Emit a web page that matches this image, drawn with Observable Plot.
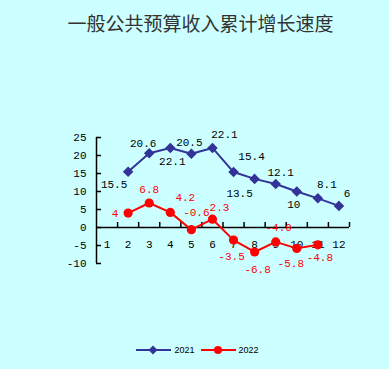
<!DOCTYPE html>
<html><head><meta charset="utf-8">
<script src="https://cdn.jsdelivr.net/npm/d3@7"></script>
<script src="https://cdn.jsdelivr.net/npm/@observablehq/plot@0.6"></script>
<style>
html,body{margin:0;padding:0;background:#ccffff;width:389px;height:369px;overflow:hidden}
#title{height:40px;line-height:46px;text-align:center;font-family:"Noto Sans CJK SC";font-size:19px;color:#333;padding-left:12px;box-sizing:border-box;white-space:nowrap}
#chart svg{display:block}
#legend{height:39px;display:flex;justify-content:center;align-items:center;padding-left:6px;font-family:"Liberation Sans";font-size:9px;color:#000}
#legend span.item{display:flex;align-items:center;margin:0 3px}
#legend svg{display:block;margin-right:3px}
</style></head>
<body>
<div id="title">一般公共预算收入累计增长速度</div>
<div id="chart"></div>
<div id="legend"></div>
<script>
// ---- data ----
const monthTicks = [1,2,3,4,5,6,7,8,9,10,11,12];
const yTicks = [-10,-5,0,5,10,15,20,25];
const months2021 = [2,3,4,5,6,7,8,9,10,11,12];
const values2021 = [15.5,20.6,22.1,20.5,22.1,15.4,13.5,12.1,10,8.1,6];
const labels2021 = ["15.5","20.6","22.1","20.5","22.1","15.4","13.5","12.1","10","8.1","6"];
const months2022 = [2,3,4,5,6,7,8,9,10,11];
const values2022 = [4,6.8,4.2,-0.6,2.3,-3.5,-6.8,-4.0,-5.8,-4.8];
const labels2022 = ["4","6.8","4.2","-0.6","2.3","-3.5","-6.8","-4.0","-5.8","-4.8"];
const seriesNames = ["2021","2022"];

// ---- label placement (layout only) ----
const off2021 = [[-14,13],[-6,-10],[2,14],[-2,-11],[12,-13],[18,-16],[-15,15],[5,-11],[-3,13],[9,-14],[8,-12]];
const off2022 = [[-13,0],[0,-14],[15,-15],[5,-17],[7,-12],[-2,16],[3,17],[3,-14],[-6,15],[2,13]];

const blue = "#333399", red = "#ff0000";
const bounds = monthTicks.map(m => m + 0.5);

const labelMarks = (months, values, labels, offs, color) =>
  months.map((m, i) => Plot.text([i], {
    x: j => months[j], y: j => values[j], text: j => labels[j],
    dx: offs[i][0], dy: offs[i][1], fill: color, fontSize: 11
  }));

const plot = Plot.plot({
  width: 389, height: 290,
  marginTop: 97, marginBottom: 67, marginLeft: 96, marginRight: 40,
  style: {background: "transparent", fontFamily: "Liberation Mono", fontSize: "11px", color: "#000", overflow: "visible"},
  x: {domain: [0.5, 12.5], axis: null},
  y: {domain: [-10, 25], axis: null},
  marks: [
    Plot.axisY({ticks: yTicks, tickSize: 0, tickPadding: 10, fontSize: 11, tickFormat: d => String(d)}),
    Plot.ruleY(yTicks, {y: d => d, x1: 0.5, x2: 0.5, insetRight: -5, stroke: "#000", strokeWidth: 1.5}),
    Plot.ruleX([0.5], {stroke: "#000", strokeWidth: 1.5}),
    Plot.ruleY([0], {stroke: "#000", strokeWidth: 1.5}),
    Plot.ruleX(bounds, {x: d => d, y1: 0, y2: 0, insetTop: -5, stroke: "#000", strokeWidth: 1.5}),
    Plot.text(monthTicks, {x: d => d, y: 0, dy: 17, text: d => String(d), fontSize: 11}),
    Plot.line(months2021, {x: d => d, y: (d, i) => values2021[i], stroke: blue, strokeWidth: 2}),
    Plot.dot(months2021, {x: d => d, y: (d, i) => values2021[i], symbol: "diamond2", r: 3.8, fill: blue, stroke: blue}),
    Plot.line(months2022, {x: d => d, y: (d, i) => values2022[i], stroke: red, strokeWidth: 2}),
    Plot.dot(months2022, {x: d => d, y: (d, i) => values2022[i], r: 4.6, fill: red}),
    ...labelMarks(months2021, values2021, labels2021, off2021, "#000"),
    ...labelMarks(months2022, values2022, labels2022, off2022, red)
  ]
});
document.getElementById("chart").appendChild(plot);

// ---- legend ----
const legend = document.getElementById("legend");
[[seriesNames[0], blue, "diamond"], [seriesNames[1], red, "circle"]].forEach(([name, color, shape]) => {
  const item = document.createElement("span");
  item.className = "item";
  const marker = shape === "circle"
    ? `<circle cx="17" cy="5" r="4" fill="${color}"/>`
    : `<path d="M17,0.5L21.5,5L17,9.5L12.5,5Z" fill="${color}"/>`;
  item.innerHTML = `<svg width="35" height="10"><line x1="0" x2="35" y1="5" y2="5" stroke="${color}" stroke-width="2"/>${marker}</svg><span>${name}</span>`;
  legend.appendChild(item);
});
</script>
</body></html>
